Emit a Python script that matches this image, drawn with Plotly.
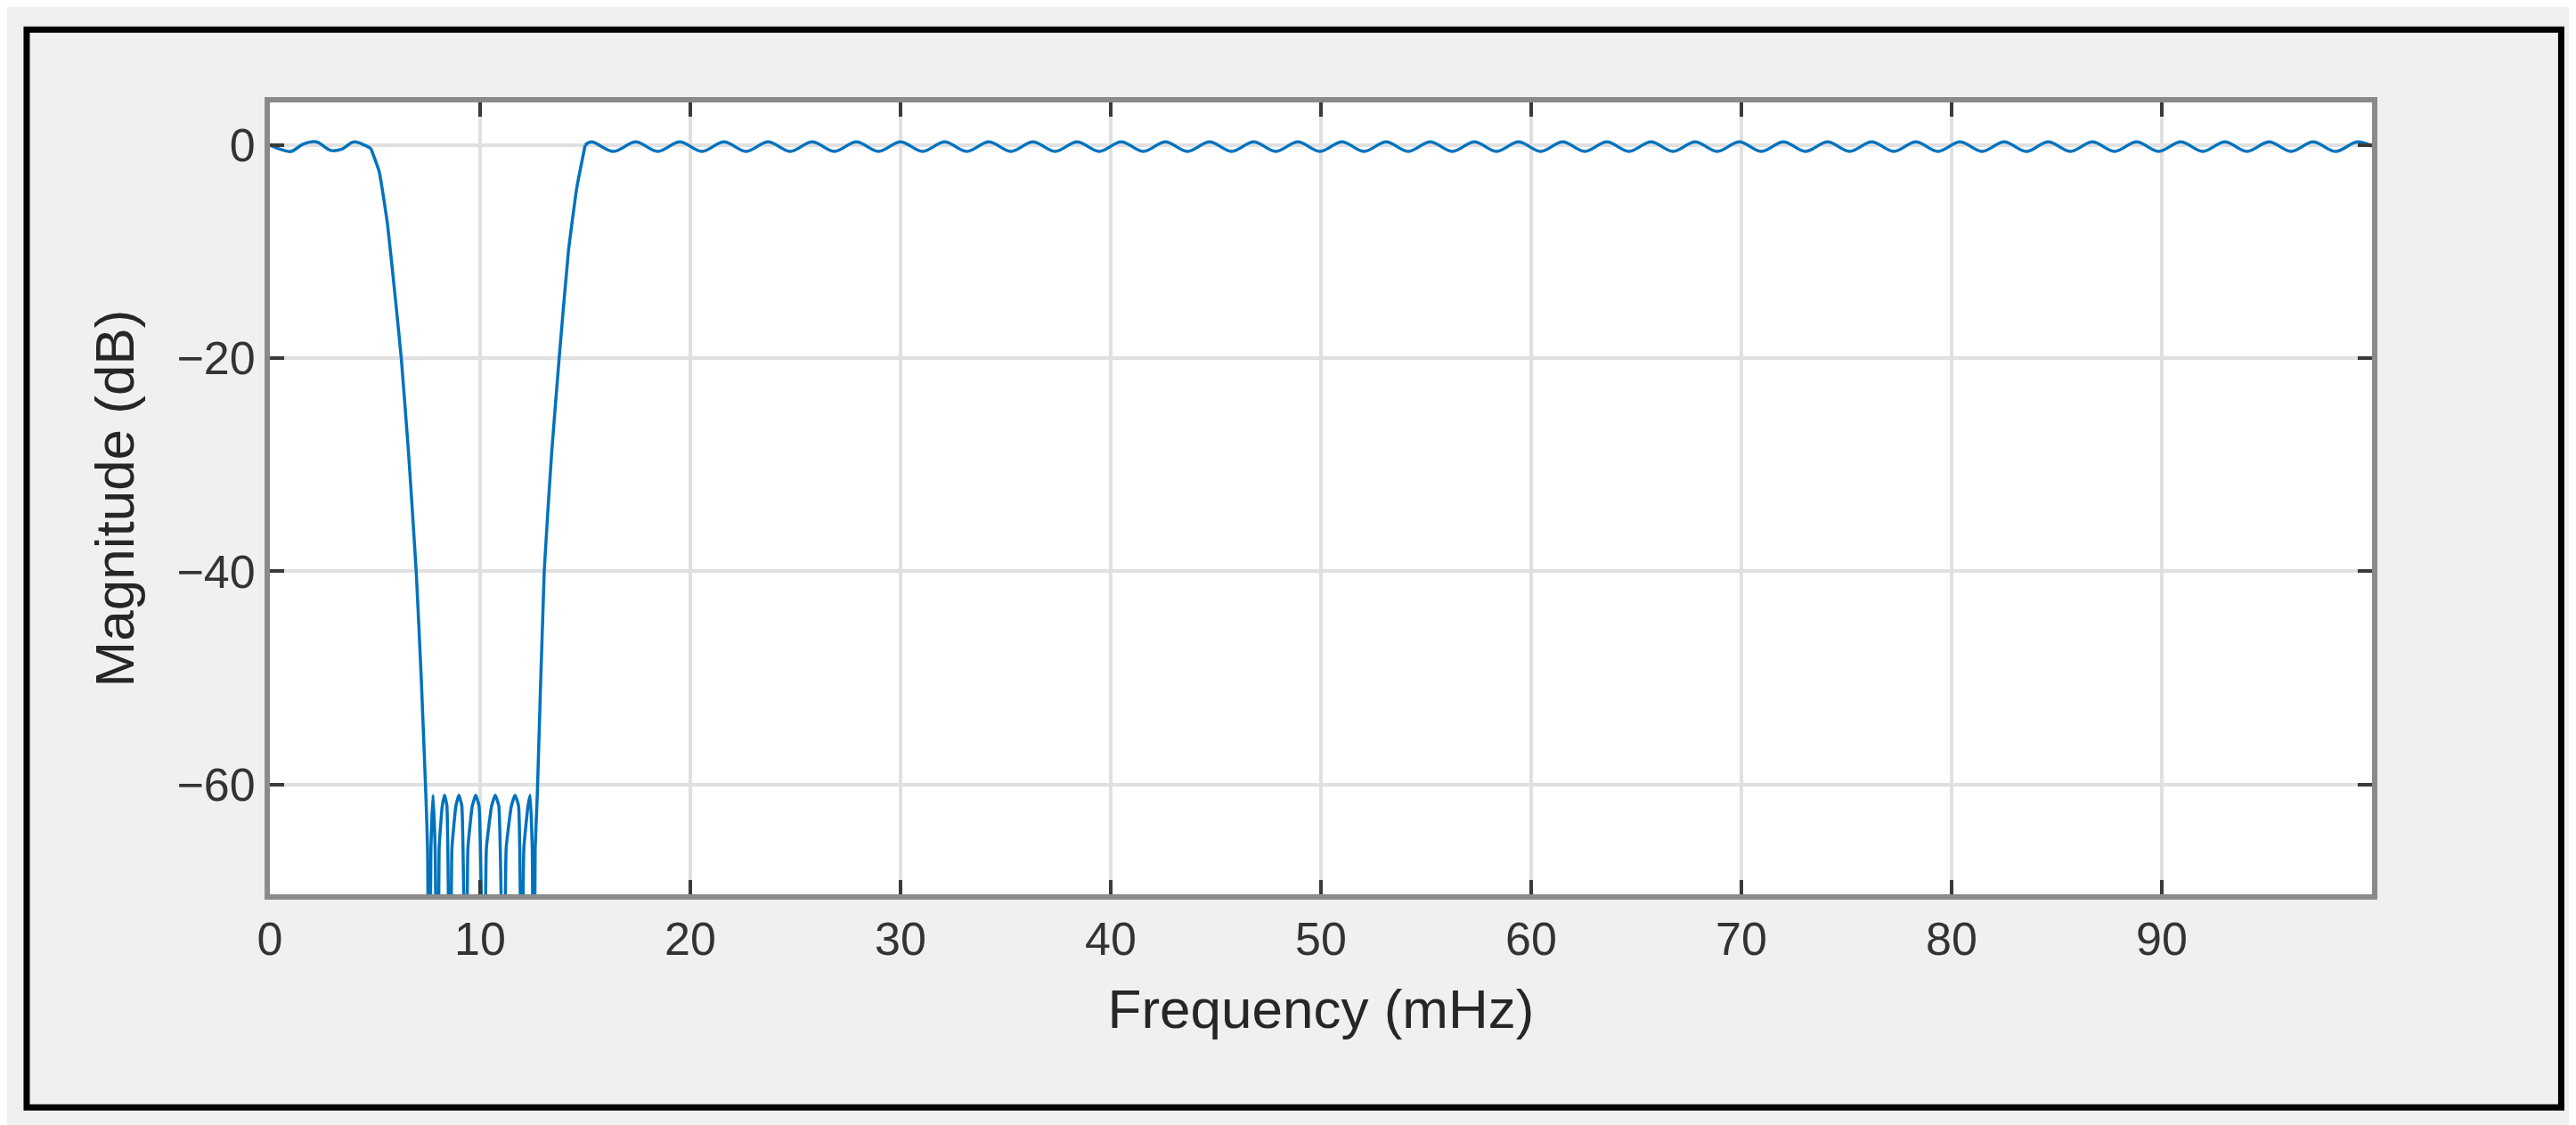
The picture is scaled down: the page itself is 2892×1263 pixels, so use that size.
import plotly.graph_objects as go

# passband (low) ripple
pb1_x = [0, 0.5, 1.0, 1.6, 2.2, 2.9, 3.4, 4.0, 4.5, 4.8]
pb1_y = [0.0, -0.4, -0.6, 0.1, 0.3, -0.5, -0.4, 0.3, 0.0, -0.3]

# transition + stopband (lobes peak near -61 dB, nulls below the axis)
tr_x = [4.8, 5.2, 5.6, 6.0, 6.25, 6.6, 6.96, 7.2, 7.42, 7.5, 7.58,
        7.66, 7.76, 7.86, 7.98, 8.05, 8.2, 8.31, 8.42, 8.58, 8.66, 8.85, 8.99, 9.13, 9.34, 9.42,
        9.63, 9.79, 9.95, 10.2, 10.3, 10.55, 10.72, 10.89, 11.14, 11.24, 11.49, 11.66, 11.83,
        11.98, 12.08, 12.28, 12.38, 12.48, 12.55, 12.62,
        12.72, 13.05, 13.4, 13.76, 14.2, 14.6, 15.0]
tr_y = [-0.3, -2.5, -7.5, -15, -20, -29, -40, -50, -61, -66, -90,
        -66, -61, -66, -90, -66, -62, -61, -62, -90, -66, -62, -61, -62, -90, -66,
        -62, -61, -62, -90, -66, -62, -61, -62, -90, -66, -62, -61, -62,
        -90, -66, -62, -61, -66, -90, -66,
        -61, -40, -29, -20, -10, -4, 0.0]

# upper passband ripple
pb2_x = [15.0, 15.3, 16.35, 17.4, 18.45, 19.5, 20.55, 21.6, 22.65, 23.7, 24.75, 25.8, 26.85,
         27.9, 28.95, 30.0, 31.05, 32.1, 33.15, 34.2, 35.25, 36.3, 37.35, 38.4, 39.45,
         40.5, 41.55, 42.6, 43.65, 44.7, 45.75, 46.8, 47.85, 48.9, 49.95, 51.0, 52.05,
         53.1, 54.15, 55.2, 56.25, 57.3, 58.35, 59.4, 60.45, 61.5, 62.55, 63.6, 64.65,
         65.7, 66.75, 67.8, 68.85, 69.9, 70.95, 72.0, 73.05, 74.1, 75.15, 76.2, 77.25,
         78.3, 79.35, 80.4, 81.45, 82.5, 83.55, 84.6, 85.65, 86.7, 87.75, 88.8, 89.85,
         90.9, 91.95, 93.0, 94.05, 95.1, 96.15, 97.2, 98.25, 99.3, 100.0]
pb2_y = [0.0, 0.3, -0.6, 0.3, -0.6, 0.3, -0.6, 0.3, -0.6, 0.3, -0.6, 0.3, -0.6,
         0.3, -0.6, 0.3, -0.6, 0.3, -0.6, 0.3, -0.6, 0.3, -0.6, 0.3, -0.6,
         0.3, -0.6, 0.3, -0.6, 0.3, -0.6, 0.3, -0.6, 0.3, -0.6, 0.3, -0.6,
         0.3, -0.6, 0.3, -0.6, 0.3, -0.6, 0.3, -0.6, 0.3, -0.6, 0.3, -0.6,
         0.3, -0.6, 0.3, -0.6, 0.3, -0.6, 0.3, -0.6, 0.3, -0.6, 0.3, -0.6,
         0.3, -0.6, 0.3, -0.6, 0.3, -0.6, 0.3, -0.6, 0.3, -0.6, 0.3, -0.6,
         0.3, -0.6, 0.3, -0.6, 0.3, -0.6, 0.3, -0.6, 0.3, -0.1]

x_ticks = [0, 10, 20, 30, 40, 50, 60, 70, 80, 90]
y_ticks = [0, -20, -40, -60]

col = "#0072bd"
fig = go.Figure()
fig.add_trace(go.Scatter(x=pb1_x, y=pb1_y, mode="lines", line=dict(color=col, width=3.5, shape="spline"), showlegend=False))
fig.add_trace(go.Scatter(x=tr_x, y=tr_y, mode="lines", line=dict(color=col, width=3.5, shape="spline", smoothing=0.4), showlegend=False))
fig.add_trace(go.Scatter(x=pb2_x, y=pb2_y, mode="lines", line=dict(color=col, width=3.5, shape="spline"), showlegend=False))

tf = dict(family="Liberation Sans, Arial", size=52, color="#333333")
axis_common = dict(showline=True, linecolor="#8a8a8a", linewidth=6, mirror="ticks",
                   ticks="inside", ticklen=16, tickwidth=4, tickcolor="#3a3a3a",
                   showgrid=True, gridcolor="#e0e0e0", gridwidth=4, zeroline=False,
                   tickfont=tf)
fig.update_xaxes(range=[0, 100], tickvals=x_ticks, **axis_common,
                 title=dict(text="Frequency (mHz)", font=dict(family="Liberation Sans, Arial", size=62, color="#262626"), standoff=30))
fig.update_yaxes(range=[-70.3, 4], tickvals=y_ticks, **axis_common,
                 title=dict(text="Magnitude (dB)", font=dict(family="Liberation Sans, Arial", size=62, color="#262626"), standoff=30))
fig.update_layout(width=2892, height=1263, paper_bgcolor="#f0f0f0", plot_bgcolor="white",
                  margin=dict(l=295, r=237, t=107, b=267),
                  shapes=[dict(type="rect", xref="paper", yref="paper", x0=-0.1157, x1=1.090, y0=-0.269, y1=1.092,
                               line=dict(color="black", width=7))])
fig.write_html("out.html")
